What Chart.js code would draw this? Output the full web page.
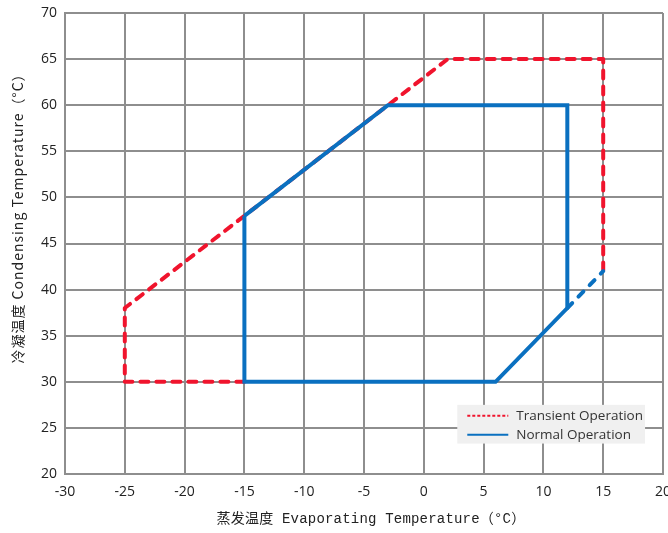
<!DOCTYPE html>
<html>
<head>
<meta charset="utf-8">
<script src="https://cdn.jsdelivr.net/npm/chart.js@4"></script>
<style>
    html, body { margin: 0; padding: 0; background: #ffffff; }
    #wrap { width: 668px; height: 533px; position: relative; }
</style>
</head>
<body>
<div id="wrap"><canvas id="chart"></canvas></div>
<script>
"use strict";
// envelope corners (evap degC, cond degC)
const transientX = [-15, -25, -25, -3, 2, 15, 15];
const transientY = [30, 30, 38, 60, 65, 65, 42];
const normalX = [-15, -3, 12, 12, 6, -15, -15];
const normalY = [48, 60, 60, 38, 30, 30, 48];
const linkX = [12, 15];
const linkY = [38, 42];
const xTicks = [-30, -25, -20, -15, -10, -5, 0, 5, 10, 15, 20];
const yTicks = [20, 25, 30, 35, 40, 45, 50, 55, 60, 65, 70];
const legendLabels = ['Transient Operation', 'Normal Operation'];
const yTitle = '冷凝温度 Condensing Temperature（°C）';
const xTitle = '蒸发温度 Evaporating Temperature（°C）';

const RED = '#f0142d';
const BLUE = '#0a70c0';
const GRID = '#8e8e8e';
const TICK_FONT = { family: '"Open Sans", "Noto Sans", sans-serif', size: 14 };

function toPoints(xs, ys) {
    let result = [];
    for (let i = 0; i < xs.length; i++) {
        result.push({ x: xs[i], y: ys[i] });
    }
    return result;
}

// legend box sits inside the plot, bottom right; axis titles drawn by hand
// because they sit off-centre and are letter-spaced in the original
const extras = {
    id: 'extras',
    afterDraw(chart) {
        const ctx = chart.ctx;
        const xs = chart.scales.x;
        const ys = chart.scales.y;
        const left = xs.getPixelForValue(2.8);
        const right = xs.getPixelForValue(18.5);
        const top = ys.getPixelForValue(27.5);
        const bottom = ys.getPixelForValue(23.3);
        ctx.save();
        ctx.fillStyle = '#f0f0f0';
        ctx.fillRect(left, top, right - left, bottom - top);
        const rows = [
            { label: legendLabels[0], color: RED, dash: [3, 2] },
            { label: legendLabels[1], color: BLUE, dash: [] }
        ];
        ctx.font = '13.5px "Open Sans", "Noto Sans", sans-serif';
        ctx.textBaseline = 'middle';
        for (let i = 0; i < rows.length; i++) {
            const y = top + 11 + i * 19;
            ctx.beginPath();
            ctx.setLineDash(rows[i].dash);
            ctx.strokeStyle = rows[i].color;
            ctx.lineWidth = 2;
            ctx.moveTo(left + 10, y);
            ctx.lineTo(left + 51, y);
            ctx.stroke();
            ctx.setLineDash([]);
            ctx.fillStyle = '#333333';
            ctx.fillText(rows[i].label, left + 59, y);
        }
        ctx.restore();

        ctx.save();
        ctx.translate(18, 215);
        ctx.rotate(-Math.PI / 2);
        ctx.font = '14px "Noto Sans CJK SC", "Noto Sans", sans-serif';
        ctx.letterSpacing = '1px';
        ctx.fillStyle = '#222222';
        ctx.textAlign = 'center';
        ctx.textBaseline = 'middle';
        ctx.fillText(yTitle, 0, 0);
        ctx.restore();

        ctx.save();
        ctx.font = '14px "Liberation Mono", "Noto Sans CJK SC", monospace';
        ctx.letterSpacing = '0.2px';
        ctx.fillStyle = '#222222';
        ctx.textAlign = 'center';
        ctx.textBaseline = 'middle';
        ctx.fillText(xTitle, 371, 519);
        ctx.restore();
    }
};

const config = {
    type: 'scatter',
    data: {
        datasets: [
            {
                label: legendLabels[1],
                data: toPoints(normalX, normalY),
                showLine: true,
                borderColor: BLUE,
                borderWidth: 4,
                pointRadius: 0,
                borderJoinStyle: 'miter',
                tension: 0
            },
            {
                label: 'link',
                data: toPoints(linkX, linkY),
                showLine: true,
                borderColor: BLUE,
                borderWidth: 4,
                borderDash: [7, 9],
                borderCapStyle: 'round',
                pointRadius: 0
            },
            {
                label: legendLabels[0],
                data: toPoints(transientX, transientY),
                showLine: true,
                borderColor: RED,
                borderWidth: 4,
                borderDash: [8, 8],
                borderCapStyle: 'round',
                borderJoinStyle: 'round',
                pointRadius: 0
            }
        ]
    },
    options: {
        responsive: true,
        maintainAspectRatio: false,
        animation: false,
        layout: {
            padding: { top: 13, right: 5, left: 0, bottom: 0 }
        },
        plugins: {
            legend: { display: false },
            tooltip: { enabled: false }
        },
        scales: {
            x: {
                type: 'linear',
                min: -30,
                max: 20,
                afterBuildTicks: function (scale) {
                    scale.ticks = xTicks.map(v => ({ value: v }));
                },
                afterFit: function (scale) {
                    scale.height = 59;
                    scale.paddingLeft = 0;
                    scale.paddingRight = 0;
                },
                grid: {
                    color: GRID,
                    lineWidth: 2,
                    drawTicks: false
                },
                border: { color: GRID, width: 2 },
                ticks: {
                    padding: 10,
                    color: '#222222',
                    font: TICK_FONT
                }
            },
            y: {
                type: 'linear',
                min: 20,
                max: 70,
                afterBuildTicks: function (scale) {
                    scale.ticks = yTicks.map(v => ({ value: v }));
                },
                afterFit: function (scale) {
                    scale.width = 65;
                    scale.paddingTop = 0;
                    scale.paddingBottom = 0;
                },
                grid: {
                    color: GRID,
                    lineWidth: 2,
                    drawTicks: false
                },
                border: { color: GRID, width: 2 },
                ticks: {
                    padding: 8,
                    color: '#222222',
                    font: TICK_FONT
                }
            }
        }
    },
    plugins: [extras]
};

const theChart = new Chart(document.getElementById('chart'), config);
</script>
</body>
</html>
